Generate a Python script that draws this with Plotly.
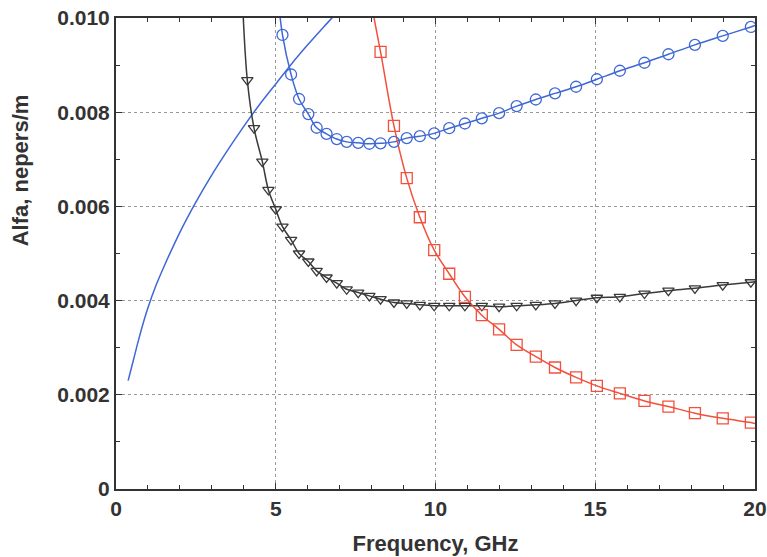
import plotly.graph_objects as go

# Shared (log-spaced) marker frequency grids, GHz
f_black = [4.11, 4.32, 4.58, 4.77, 5.00, 5.21, 5.48, 5.73, 6.02, 6.28, 6.59, 6.91, 7.22,
           7.58, 7.93, 8.28, 8.70, 9.10, 9.51, 9.96, 10.43, 10.92, 11.45, 11.99, 12.54,
           13.14, 13.74, 14.40, 15.05, 15.77, 16.54, 17.29, 18.12, 18.99, 19.87]
a_black = [0.00868, 0.00766, 0.00695, 0.00635, 0.00594, 0.00557, 0.00529, 0.00500, 0.00483,
           0.00463, 0.00449, 0.00437, 0.00424, 0.00417, 0.00410, 0.00403, 0.00396, 0.00394,
           0.00391, 0.00389, 0.00389, 0.00389, 0.00389, 0.00387, 0.00389, 0.00391, 0.00394,
           0.00400, 0.00406, 0.00408, 0.00415, 0.00421, 0.00426, 0.00433, 0.00439]
# line extensions (start above the frame, end at 20 GHz)
f_black_line = [3.95] + f_black + [20.0]
a_black_line = [0.0105] + a_black + [0.00440]

f_circ = [5.21, 5.48, 5.73, 6.02, 6.28, 6.59, 6.91, 7.22, 7.58, 7.93, 8.28, 8.70, 9.10, 9.51,
          9.96, 10.43, 10.92, 11.45, 11.99, 12.54, 13.14, 13.74, 14.40, 15.05, 15.77, 16.54,
          17.29, 18.12, 18.99, 19.87]
a_circ = [0.00964, 0.00880, 0.00828, 0.00796, 0.00767, 0.00754, 0.00743, 0.00737, 0.00735,
          0.00733, 0.00734, 0.00737, 0.00745, 0.00749, 0.00755, 0.00766, 0.00776, 0.00787,
          0.00798, 0.00813, 0.00827, 0.00840, 0.00854, 0.00870, 0.00888, 0.00905, 0.00923,
          0.00943, 0.00962, 0.00981]
f_circ_line = [5.08] + f_circ + [20.0]
a_circ_line = [0.0104] + a_circ + [0.00984]

f_sq = [8.28, 8.70, 9.10, 9.51, 9.96, 10.43, 10.92, 11.45, 11.99, 12.54, 13.14, 13.74, 14.40,
        15.05, 15.77, 16.54, 17.29, 18.12, 18.99, 19.87]
a_sq = [0.00928, 0.00771, 0.00660, 0.00577, 0.00507, 0.00457, 0.00408, 0.00369, 0.00339,
        0.00306, 0.00281, 0.00258, 0.00237, 0.00219, 0.00203, 0.00187, 0.00175, 0.00161,
        0.00150, 0.00141]
f_sq_line = [7.95] + f_sq + [20.0]
a_sq_line = [0.01045] + a_sq + [0.00139]

# plain blue curve (no markers)
f_blue = [0.38, 0.55, 0.70, 0.85, 1.0, 1.25, 1.5, 2.0, 2.5, 3.0, 3.5, 4.0, 4.5, 5.0, 5.5,
          6.0, 6.5, 6.8, 7.0]
a_blue = [0.00230, 0.00275, 0.00315, 0.00352, 0.00385, 0.00432, 0.00472, 0.00545, 0.00609,
          0.00667, 0.00720, 0.00770, 0.00817, 0.00860, 0.00903, 0.00943, 0.00981, 0.01003,
          0.01018]

x_ticks = [0, 5, 10, 15, 20]
y_ticks = [0, 0.002, 0.004, 0.006, 0.008, 0.010]
y_ticktext = ["0", "0.002", "0.004", "0.006", "0.008", "0.010"]

BLUE = "#3f68d6"
RED = "#f2503c"
DARK = "#3a3a3a"

fig = go.Figure()
fig.add_trace(go.Scatter(x=f_blue, y=a_blue, mode="lines", line=dict(color=BLUE, width=1.5),
                         line_shape="spline", showlegend=False))
fig.add_trace(go.Scatter(x=f_black_line, y=a_black_line, mode="lines",
                         line=dict(color=DARK, width=1.5), line_shape="spline", showlegend=False))
fig.add_trace(go.Scatter(x=f_circ_line, y=a_circ_line, mode="lines",
                         line=dict(color=BLUE, width=1.5), line_shape="spline", showlegend=False))
fig.add_trace(go.Scatter(x=f_sq_line, y=a_sq_line, mode="lines",
                         line=dict(color=RED, width=1.5), line_shape="spline", showlegend=False))
fig.add_trace(go.Scatter(x=f_black, y=a_black, mode="markers",
                         marker=dict(symbol="triangle-down-open", size=10, color=DARK,
                                     line=dict(width=1.3)), showlegend=False))
fig.add_trace(go.Scatter(x=f_circ, y=a_circ, mode="markers",
                         marker=dict(symbol="circle-open", size=11, color=BLUE,
                                     line=dict(width=1.3)), showlegend=False))
fig.add_trace(go.Scatter(x=f_sq, y=a_sq, mode="markers",
                         marker=dict(symbol="square-open", size=11, color=RED,
                                     line=dict(width=1.3)), showlegend=False))

font_tick = dict(family="Liberation Sans, Arial, sans-serif", size=21, color="#333333",
                 weight="bold")
font_title = dict(family="Liberation Sans, Arial, sans-serif", size=22, color="#333333",
                  weight="bold")

fig.update_layout(
    width=767, height=557,
    margin=dict(l=116, r=12, t=18, b=68),
    paper_bgcolor="white", plot_bgcolor="white",
    font=font_tick,
    xaxis=dict(
        range=[0, 20], tickvals=x_ticks, ticktext=[str(v) for v in x_ticks],
        automargin=False,
        showline=True, linecolor="#333333", linewidth=2, mirror="ticks",
        ticks="inside", ticklen=6, tickcolor="#333333",
        showgrid=True, gridcolor="#999999", griddash="dot", gridwidth=1,
        zeroline=False,
        minor=dict(dtick=1, ticks="inside", ticklen=4, tickcolor="#333333", showgrid=False),
        title=dict(text="Frequency, GHz", font=font_title, standoff=16),
        tickfont=font_tick,
    ),
    yaxis=dict(
        range=[0, 0.010], tickvals=y_ticks, ticktext=y_ticktext,
        automargin=False,
        showline=True, linecolor="#333333", linewidth=2, mirror="ticks",
        ticks="inside", ticklen=6, tickcolor="#333333",
        showgrid=True, gridcolor="#999999", griddash="dot", gridwidth=1,
        zeroline=False,
        minor=dict(dtick=0.001, ticks="inside", ticklen=4, tickcolor="#333333", showgrid=False),
        tickfont=font_tick,
    ),
    annotations=[dict(
        text="Alfa, nepers/m", textangle=-90, font=font_title,
        xref="paper", yref="paper", x=-0.150, y=0.677,
        xanchor="center", yanchor="middle", showarrow=False,
    )],
)

fig.write_html("out.html")
